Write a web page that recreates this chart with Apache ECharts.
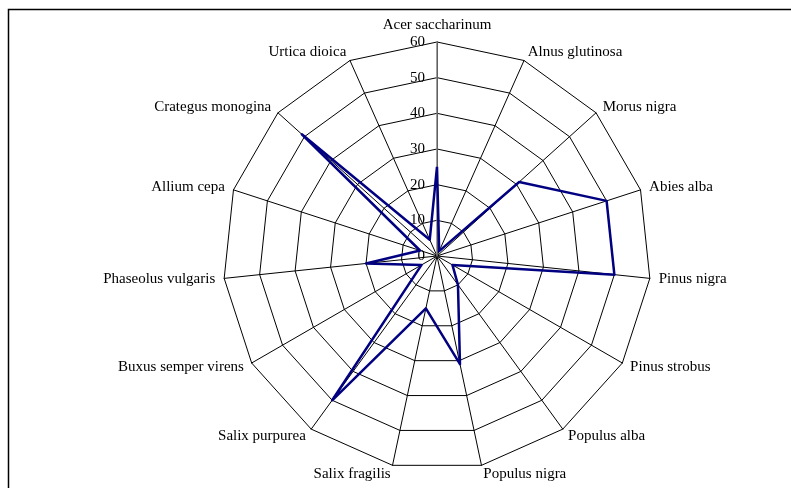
<!DOCTYPE html>
<html>
<head>
<meta charset="utf-8">
<script src="https://cdn.jsdelivr.net/npm/echarts@6/dist/echarts.min.js"></script>
<style>
  html, body { margin: 0; padding: 0; background: #fff; }
  #mychart { width: 791px; height: 488px; }
</style>
</head>
<body>
<div id="mychart"></div>
<script>
// categories, clockwise from the top
var species = ['Acer saccharinum', 'Alnus glutinosa', 'Morus nigra', 'Abies alba', 'Pinus nigra',
  'Pinus strobus', 'Populus alba', 'Populus nigra', 'Salix fragilis', 'Salix purpurea',
  'Buxus semper virens', 'Phaseolus vulgaris', 'Allium cepa', 'Crategus monogina', 'Urtica dioica']
var values = [25, 1.5, 31, 50, 50, 5, 10, 31, 15, 50, 5, 20, 5, 51, 5]
var tickLabels = [0, 10, 20, 30, 40, 50, 60]

var maxVal = 60
var font = 'Liberation Serif'

// echarts lays out radar indicators counter-clockwise, so keep the first and reverse the rest
var order = [0]
for (var i = species.length - 1; i > 0; i--) order.push(i)
var indicator = order.map(function (i) { return { name: species[i], max: maxVal, min: 0 } })
var radarData = order.map(function (i) { return values[i] })

var myChart = echarts.init(document.getElementById('mychart'))
var option = {
  backgroundColor: '#fff',
  animation: false,
  graphic: [{
    type: 'rect',
    left: 6, top: 7,
    shape: { width: 900, height: 600 },
    style: { fill: 'none', stroke: '#000', lineWidth: 1.5 },
    silent: true
  }],
  radar: {
    center: [437, 256],
    radius: 214,
    startAngle: 90,
    shape: 'polygon',
    splitNumber: 6,
    indicator: indicator,
    nameGap: 9,
    axisName: { color: '#000', fontFamily: font, fontSize: 15 },
    axisLine: { lineStyle: { color: '#000', width: 1 } },
    splitLine: { lineStyle: { color: '#000', width: 1 } },
    splitArea: { show: false }
  },
  // polar only for the value scale on the top spoke
  polar: { center: [437, 256], radius: 214 },
  angleAxis: {
    type: 'value', startAngle: 90, min: 0, max: 360,
    axisLine: { show: false }, axisTick: { show: false },
    axisLabel: { show: false }, splitLine: { show: false }
  },
  radiusAxis: {
    type: 'value', min: 0, max: maxVal, interval: 10,
    axisLine: { show: true, lineStyle: { color: '#808080', width: 1.5 } },
    axisTick: { show: false },
    splitLine: { show: false },
    axisLabel: {
      color: '#000', fontFamily: font, fontSize: 15, margin: 12,
      formatter: function (v) { return tickLabels.indexOf(v) >= 0 ? String(v) : '' }
    },
    z: 3
  },
  series: [{
    type: 'radar',
    symbol: 'none',
    lineStyle: { color: '#000080', width: 2.5 },
    data: [{ value: radarData }],
    z: 5
  }]
}
myChart.setOption(option)
</script>
</body>
</html>
